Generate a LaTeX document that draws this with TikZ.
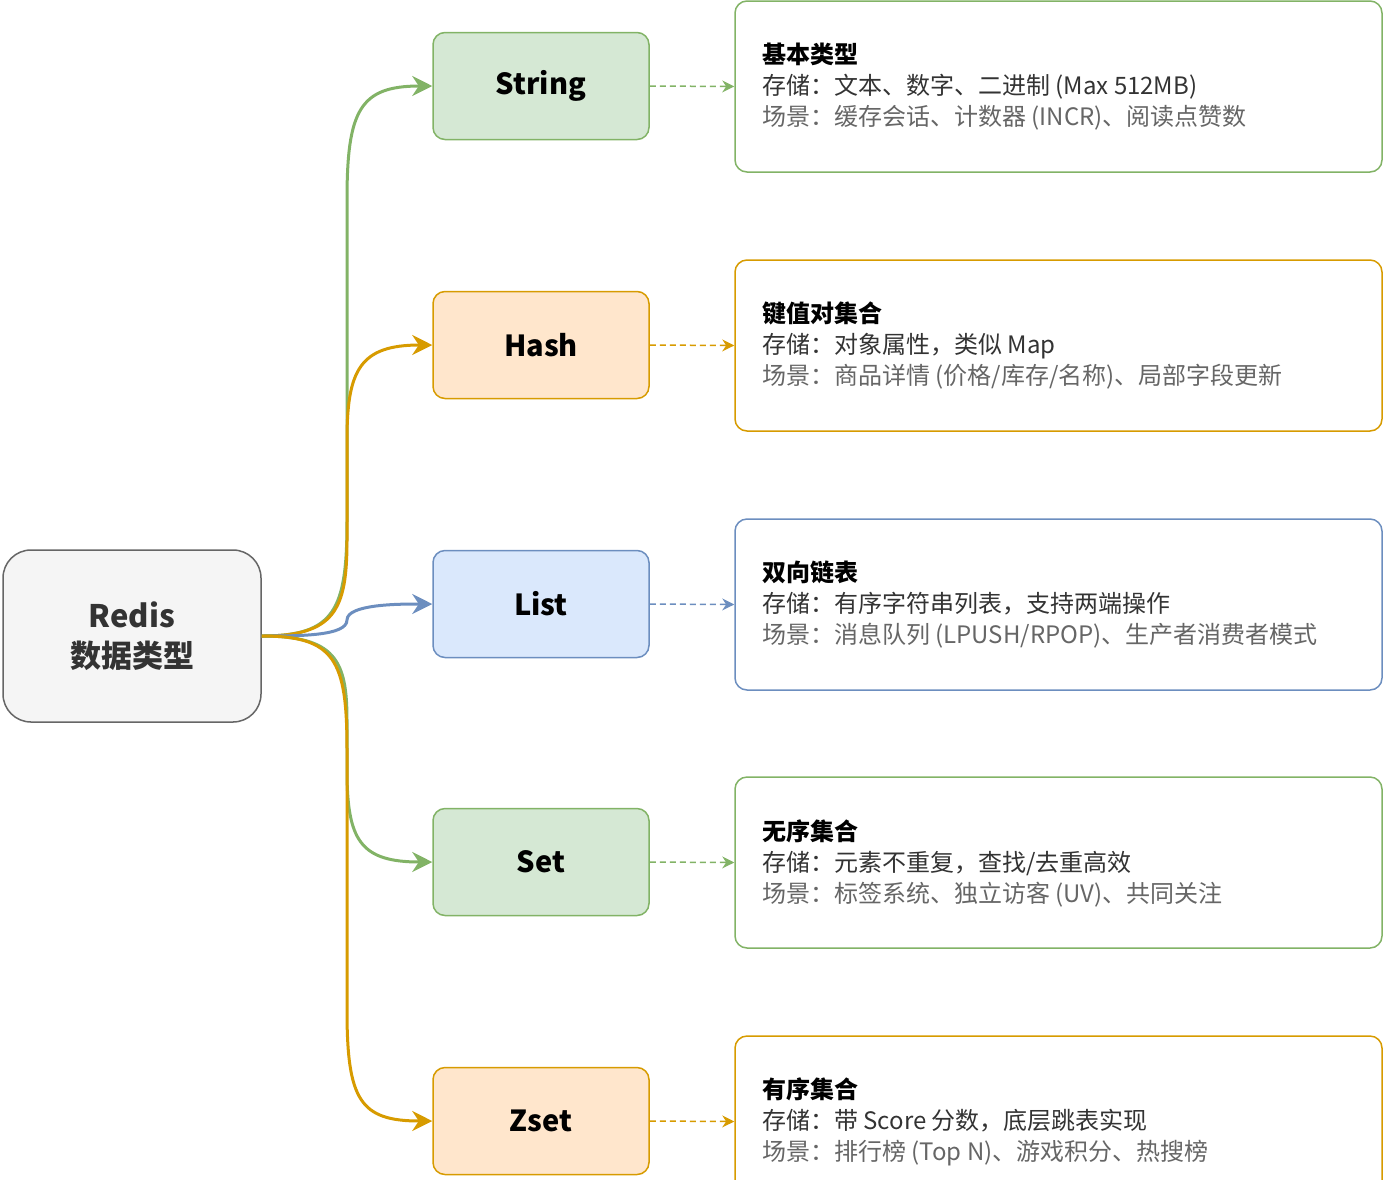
\documentclass[tikz,border=0pt]{standalone}
\usepackage{fontspec}
\setmainfont{Noto Sans CJK SC}
\usetikzlibrary{arrows.meta}
\definecolor{gf}{HTML}{D5E8D4}\definecolor{gs}{HTML}{82B366}
\definecolor{of}{HTML}{FFE6CC}\definecolor{os}{HTML}{D79B00}
\definecolor{bf}{HTML}{DAE8FC}\definecolor{bs}{HTML}{6C8EBF}
\definecolor{tf}{HTML}{F5F5F5}\definecolor{ts}{HTML}{666666}
\definecolor{l2}{HTML}{333333}\definecolor{l3}{HTML}{666666}
\begin{document}
\begin{tikzpicture}[x=1pt,y=-1pt,
 typ/.style={draw=#1s,fill=#1f,line width=1.5pt,rounded corners=12pt,minimum width=216pt,minimum height=107pt,font=\fontsize{29}{32}\selectfont\bfseries},
 det/.style={draw=#1s,fill=white,line width=1.5pt,rounded corners=12pt,minimum width=647pt,minimum height=171pt},
 txt/.style={anchor=west,align=left,inner sep=0pt,font=\fontsize{24}{31}\selectfont},
 con/.style={draw=#1s,line width=3pt,-{Stealth[length=20pt,width=20pt]}},
 dsh/.style={draw=#1s,line width=1.5pt,dash pattern=on 6pt off 4pt,-{Stealth[length=12pt,width=12pt]}}]
\useasboundingbox (0,0) rectangle (1387,1179);
\node[draw=ts,fill=tf,line width=1.5pt,rounded corners=28pt,minimum width=258pt,minimum height=172pt,align=center,font=\fontsize{31}{40}\selectfont\bfseries,text=l2] (r) at (132,636) {Redis\\数据类型};
\foreach \n/\c/\y/\a/\b/\d in {String/g/86/{基本类型}/{存储：文本、数字、二进制 (Max 512MB)}/{场景：缓存会话、计数器 (INCR)、阅读点赞数},
 Hash/o/345/{键值对集合}/{存储：对象属性，类似 Map}/{场景：商品详情 (价格/库存/名称)、局部字段更新},
 List/b/604/{双向链表}/{存储：有序字符串列表，支持两端操作}/{场景：消息队列 (LPUSH/RPOP)、生产者消费者模式},
 Set/g/862/{无序集合}/{存储：元素不重复，查找/去重高效}/{场景：标签系统、独立访客 (UV)、共同关注},
 Zset/o/1121/{有序集合}/{存储：带 Score 分数，底层跳表实现}/{场景：排行榜 (Top N)、游戏积分、热搜榜}}{
 \node[typ=\c] (t\n) at (541,\y) {\n};
 \node[det=\c] (d\n) at (1058.5,\y+0.5) {};
 \node[txt] (x\n) at (762,\y+1) {\textbf{\a}\\\textcolor{l2}{\b}\\\textcolor{l3}{\d}};
 \draw[dsh=\c] (t\n.east) -- (d\n.west);
}
\draw[con=g] (r.east) .. controls (335,636) and (347,610) .. (347,520) -- (347,200) .. controls (347,110) and (360,86) .. (tString.west);
\draw[con=o] (r.east) .. controls (335,636) and (347,610) .. (347,540) -- (347,440) .. controls (347,370) and (360,345) .. (tHash.west);
\draw[con=b] (r.east) .. controls (300,636) and (347,636) .. (347,620) .. controls (347,604) and (400,604) .. (tList.west);
\draw[con=g] (r.east) .. controls (335,636) and (347,660) .. (347,720) -- (347,770) .. controls (347,840) and (360,862) .. (tSet.west);
\draw[con=o] (r.east) .. controls (335,636) and (347,660) .. (347,750) -- (347,1010) .. controls (347,1100) and (360,1121) .. (tZset.west);
\end{tikzpicture}
\end{document}
